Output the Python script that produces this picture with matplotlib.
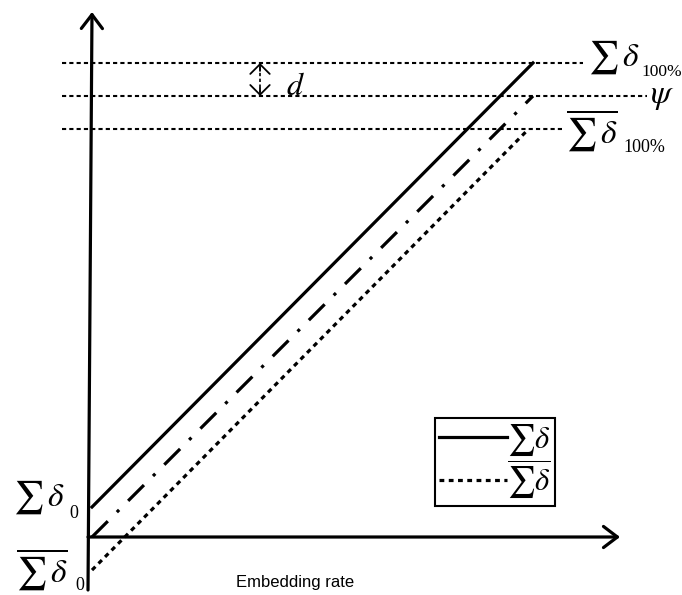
import matplotlib
matplotlib.use('Agg')
import matplotlib.pyplot as plt
from matplotlib.lines import Line2D

plt.rcParams['mathtext.fontset'] = 'stix'
plt.rcParams['font.family'] = 'Liberation Serif'

# Embedding rate (0 .. 100%) and the accumulated distortion curves
rate = [0.0, 1.0]
sum_delta = [0.068, 1.075]        # Σδ
sum_delta_mid = [0.0, 1.0]        # threshold curve (dash-dot)
sum_delta_bar = [-0.075, 0.925]   # mean Σδ

# Reference levels at 100% embedding rate
levels = [1.075, 1.0, 0.925]
level_ends = [1.113, 1.258, 1.068]

U = 441.0  # pixels per unit


def px(x, y):
    """Pixel position -> data units (origin at the axes crossing)."""
    return (x - 92) / U, (537 - y) / U


fig = plt.figure(figsize=(6.82, 5.95), dpi=100, facecolor='white')
ax = fig.add_axes([0, 0, 1, 1])
ax.set_xlim(-92 / U, (682 - 92) / U)
ax.set_ylim(-(595 - 537) / U, 537 / U)
ax.axis('off')

# Horizontal dotted reference lines
for lv, xe in zip(levels, level_ends):
    ax.plot([-30 / U, xe], [lv, lv], color='black', lw=1.5,
            linestyle=(0, (2, 1.5)), solid_capstyle='butt')

# Curves
ax.plot(rate, sum_delta, color='black', lw=2.3)
ax.plot(rate, sum_delta_mid, color='black', lw=2.3,
        linestyle=(0, (7, 4, 1, 4)))
ax.plot([rate[0], 0.99], sum_delta_bar, color='black', lw=2.3,
        linestyle=(0, (1.5, 1.4)))

# Axes arrows
arrow_kw = dict(arrowstyle='->,head_length=0.5,head_width=0.38',
                lw=2.3, color='black', mutation_scale=20,
                shrinkA=0, shrinkB=0)
ax.annotate('', xy=(0.0, 525 / U), xytext=(-4 / U, -53 / U),
            arrowprops=arrow_kw)
ax.annotate('', xy=(528 / U, 0.0), xytext=(-4 / U, 0.0),
            arrowprops=arrow_kw)

# Double arrow for d
xd = 168 / U
ax.plot([xd, xd], [levels[0] - 4 / U, levels[1] + 4 / U], color='black',
        lw=1.2, linestyle=(0, (2, 1.5)))
small_kw = dict(arrowstyle='->,head_length=0.35,head_width=0.35',
                lw=1.3, color='black', mutation_scale=20,
                shrinkA=0, shrinkB=0)
ax.annotate('', xy=(xd, levels[0]), xytext=(xd, levels[0] - 8 / U),
            arrowprops=small_kw)
ax.annotate('', xy=(xd, levels[1]), xytext=(xd, levels[1] + 8 / U),
            arrowprops=small_kw)
ax.text(*px(286, 87), r'$d$', fontsize=23, ha='left', va='center')

# Labels on the right
ax.text(*px(588, 57), r'$\sum\,\delta$', fontsize=24, ha='left', va='center')
ax.text(*px(641, 72), '100%', fontsize=12.5, ha='left', va='center')
ax.text(*px(650, 97), r'$\psi$', fontsize=24, ha='left', va='center')
ax.text(*px(566, 130), r'$\overline{\sum\,\delta}$', fontsize=24,
        ha='left', va='center')
ax.text(*px(623, 148), '100%', fontsize=13, ha='left', va='center')

# Labels at the origin
ax.text(*px(13, 497), r'$\sum\,\delta$', fontsize=24, ha='left', va='center')
ax.text(*px(69, 514), '0', fontsize=13, ha='left', va='center')
ax.text(*px(16, 569), r'$\overline{\sum\,\delta}$', fontsize=24,
        ha='left', va='center')
ax.text(*px(75, 585), '0', fontsize=13, ha='left', va='center')

ax.text(*px(295, 582), 'Embedding rate', fontsize=12,
        family='Liberation Sans', ha='center', va='center')

# Legend
handles = [Line2D([], [], color='black', lw=2.3),
           Line2D([], [], color='black', lw=2.3, linestyle=(0, (1.5, 1.4)))]
leg = ax.legend(handles, [r'$\sum\delta$', r'$\overline{\sum\delta}$'],
                loc='center', bbox_to_anchor=(495 / 682, 1 - 462 / 595),
                fontsize=22, frameon=True, fancybox=False, edgecolor='black',
                framealpha=1, handlelength=2.2, handletextpad=0.0,
                borderpad=0.15, labelspacing=0.0, borderaxespad=0)
leg.get_frame().set_linewidth(1.5)

fig.savefig('out.png', dpi=100, facecolor='white')
